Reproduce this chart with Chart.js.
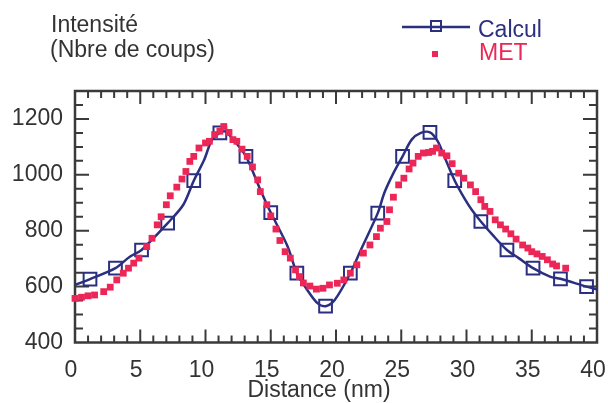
<!DOCTYPE html>
<html lang="fr">
<head>
<meta charset="UTF-8">
<title>Intensité - Distance</title>
<script src="https://cdn.jsdelivr.net/npm/chart.js"></script>
<style>
  body { margin: 0; background: #fff; }
  canvas { display: block; }
</style>
</head>
<body>
<canvas id="myChart" width="608" height="403"></canvas>
<script>
// Calcul: smooth line and its square markers
const calcLineX = [0, 1.15, 3.1, 4.2, 5.1, 7.1, 8.3, 9.1, 9.9, 10.5, 11.1, 11.5, 12.2, 13.1, 14.2, 15.0, 16.3, 17.0, 17.8, 18.6, 19.2, 19.9, 21.1, 21.9, 23.2, 23.7, 24.4, 25.1, 25.8, 26.5, 27.2, 27.8, 28.3, 29.1, 29.9, 30.4, 31.1, 32.0, 33.1, 34.0, 35.1, 36.4, 37.2, 39.2, 40];
const calcLineY = [606, 627, 666, 707, 731, 827, 893, 979, 1054, 1126, 1150, 1155, 1122, 1066, 947, 865, 743, 648, 588, 540, 530, 552, 648, 731, 863, 935, 1006, 1066, 1126, 1150, 1152, 1120, 1066, 979, 911, 875, 833, 785, 731, 702, 666, 636, 628, 600, 590];
const calcMarkX = [1.15, 3.1, 5.1, 7.1, 9.1, 11.1, 13.1, 15.0, 17.0, 19.2, 21.1, 23.2, 25.1, 27.2, 29.1, 31.1, 33.1, 35.1, 37.2, 39.2];
const calcMarkY = [627, 666, 731, 827, 979, 1150, 1066, 865, 648, 530, 648, 863, 1066, 1152, 979, 833, 731, 666, 628, 600];

// MET: measured points
const metX = [0.0, 0.5, 1.0, 1.5, 2.2, 2.7, 3.2, 3.7, 4.1, 4.5, 4.9, 5.5, 5.9, 6.3, 6.6, 7.0, 7.3, 7.8, 8.2, 8.5, 8.8, 9.1, 9.5, 10.0, 10.3, 10.7, 11.1, 11.4, 11.8, 12.1, 12.4, 12.8, 13.2, 13.6, 14.0, 14.2, 14.7, 15.0, 15.4, 15.7, 16.1, 16.5, 16.9, 17.2, 17.5, 18.0, 18.5, 19.0, 19.5, 20.1, 20.6, 21.1, 21.6, 22.1, 22.6, 23.1, 23.4, 23.9, 24.1, 24.4, 24.8, 25.2, 25.6, 25.9, 26.3, 26.7, 27.1, 27.4, 27.7, 28.1, 28.5, 28.9, 29.4, 29.8, 30.3, 30.7, 31.1, 31.4, 31.8, 32.2, 32.6, 33.0, 33.4, 33.8, 34.3, 34.7, 35.0, 35.4, 35.8, 36.2, 36.6, 36.9, 37.6];
const metY = [558, 562, 567, 570, 582, 598, 624, 648, 666, 684, 702, 743, 773, 821, 850, 893, 925, 956, 985, 1012, 1048, 1066, 1096, 1114, 1120, 1144, 1156, 1173, 1152, 1126, 1120, 1092, 1066, 1028, 982, 940, 893, 853, 806, 765, 725, 702, 660, 636, 613, 602, 591, 594, 606, 612, 624, 648, 678, 720, 749, 779, 809, 833, 875, 920, 964, 988, 1021, 1042, 1066, 1078, 1080, 1084, 1096, 1078, 1068, 1040, 1006, 988, 964, 940, 911, 887, 869, 839, 821, 806, 789, 770, 749, 738, 725, 717, 708, 696, 681, 674, 666];

const xTicks = [0, 5, 10, 15, 20, 25, 30, 35, 40];
const yTicks = [400, 600, 800, 1000, 1200];

const navy = '#2b2f80';
const red = '#ec2656';
const textColor = '#333333';
const frameColor = '#3a3a3a';
const font = 'Liberation Sans, Arial, Helvetica, sans-serif';

// frame with inward ticks on all four sides
const framePlugin = {
    id: 'frame',
    beforeDatasetsDraw(chart) {
        const c = chart.ctx, a = chart.chartArea;
        const xs = chart.scales.x, ys = chart.scales.y;
        c.save();
        c.strokeStyle = frameColor;
        c.lineWidth = 2;
        c.beginPath();
        for (let v = 1; v < 40; v++) {
            const px = xs.getPixelForValue(v);
            const len = v % 5 === 0 ? 13 : 7;
            c.moveTo(px, a.bottom); c.lineTo(px, a.bottom - len);
            c.moveTo(px, a.top); c.lineTo(px, a.top + len);
        }
        for (let v = 450; v < 1300; v += 50) {
            const py = ys.getPixelForValue(v);
            const len = v % 200 === 0 ? 14 : 8;
            c.moveTo(a.left, py); c.lineTo(a.left + len, py);
            c.moveTo(a.right, py); c.lineTo(a.right - len, py);
        }
        c.stroke();
        c.lineWidth = 2.5;
        c.strokeRect(a.left, a.top, a.right - a.left, a.bottom - a.top);
        c.restore();
    },
    afterDraw(chart) {
        const c = chart.ctx;
        c.save();
        c.font = '23px ' + font;
        c.textBaseline = 'alphabetic';
        c.fillStyle = textColor;
        c.fillText('Intensité', 51, 32);
        c.fillText('(Nbre de coups)', 50, 57);
        c.textAlign = 'center';
        c.fillText('Distance (nm)', 319, 397);

        // legend
        c.textAlign = 'left';
        c.strokeStyle = navy;
        c.lineWidth = 2.5;
        c.beginPath();
        c.moveTo(402, 27); c.lineTo(470, 27);
        c.stroke();
        c.lineWidth = 2;
        c.strokeRect(431, 21, 10, 10);
        c.fillStyle = navy;
        c.fillText('Calcul', 478, 37);
        c.fillStyle = red;
        c.fillRect(432, 51, 6, 6);
        c.fillText('MET', 479, 60);
        c.restore();
    }
};

const ctx = document.getElementById('myChart');

new Chart(ctx, {
    type: 'scatter',
    data: {
        datasets: [
            {
                label: 'MET',
                data: metX.map((x, i) => ({x: x, y: metY[i]})),
                pointStyle: 'rect',
                pointRadius: 4.8,
                pointBackgroundColor: red,
                pointBorderWidth: 0,
                showLine: false,
                clip: false
            },
            {
                label: 'Calcul',
                data: calcLineX.map((x, i) => ({x: x, y: calcLineY[i]})),
                showLine: true,
                borderColor: navy,
                borderWidth: 2.5,
                tension: 0.3,
                pointRadius: 0,
                clip: false
            },
            {
                label: 'Calcul (points)',
                data: calcMarkX.map((x, i) => ({x: x, y: calcMarkY[i]})),
                showLine: false,
                pointStyle: 'rect',
                pointRadius: 9,
                pointBorderColor: navy,
                pointBorderWidth: 2,
                pointBackgroundColor: 'rgba(0,0,0,0)',
                clip: false
            }
        ]
    },
    options: {
        responsive: false,
        animation: false,
        layout: { padding: { top: 91, right: 11, left: 0, bottom: 0 } },
        plugins: {
            legend: { display: false },
            tooltip: { enabled: false }
        },
        scales: {
            x: {
                type: 'linear',
                min: 0,
                max: 40,
                grid: { display: false, drawTicks: false },
                border: { display: false },
                afterBuildTicks: s => { s.ticks = xTicks.map(v => ({value: v})); },
                afterFit: s => { s.height = 60.5; s.paddingLeft = 0; s.paddingRight = 0; },
                ticks: {
                    color: textColor,
                    font: { family: font, size: 23 },
                    padding: 14,
                    labelOffset: -4,
                    maxRotation: 0,
                    autoSkip: false,
                    callback: v => String(v)
                }
            },
            y: {
                type: 'linear',
                min: 400,
                max: 1300,
                grid: { display: false, drawTicks: false },
                border: { display: false },
                afterBuildTicks: s => { s.ticks = yTicks.map(v => ({value: v})); },
                afterFit: s => { s.width = 75; s.paddingTop = 0; s.paddingBottom = 0; },
                ticks: {
                    color: textColor,
                    font: { family: font, size: 23 },
                    padding: 12,
                    autoSkip: false,
                    callback: v => String(v)
                }
            }
        }
    },
    plugins: [framePlugin]
});
</script>
</body>
</html>
